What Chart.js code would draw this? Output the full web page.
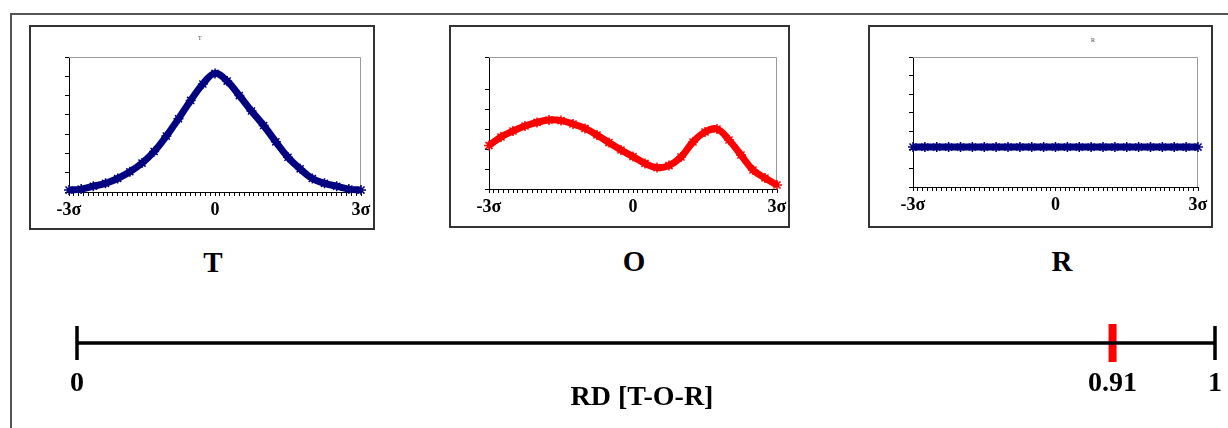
<!DOCTYPE html>
<html>
<head>
<meta charset="utf-8">
<script src="https://cdn.jsdelivr.net/npm/chart.js@4/dist/chart.umd.min.js"></script>
<style>
  body { margin: 0; background: #fff; }
  #page { position: relative; width: 1228px; height: 428px; overflow: hidden; background: #fff; font-family: "Liberation Serif", "Times New Roman", serif; }
  .frame { position: absolute; left: 10px; top: 13px; width: 1300px; height: 500px; border-left: 2px solid #555; border-top: 2px solid #555; }
  .panel { position: absolute; border: 2px solid #333; box-sizing: border-box; background: #fff; }
  .panel canvas { position: absolute; left: 0; top: 0; }
  .big { position: absolute; font-weight: bold; font-size: 29px; line-height: 29px; transform: translateX(-50%); white-space: nowrap; color: #000; }
  .tiny { position: absolute; font-size: 6px; line-height: 6px; color: #445; }
  #rd { position: absolute; left: 0; top: 300px; }
</style>
</head>
<body>
<div id="page">
  <div class="frame"></div>

  <div class="panel" style="left:29px;top:25px;width:346px;height:205px;">
    <canvas id="chartT" width="342" height="201"></canvas>
  </div>
  <div class="panel" style="left:449px;top:25px;width:341px;height:203px;">
    <canvas id="chartO" width="337" height="199"></canvas>
  </div>
  <div class="panel" style="left:868px;top:25px;width:345px;height:203px;">
    <canvas id="chartR" width="341" height="199"></canvas>
  </div>

  <div class="tiny" style="left:198px;top:35px;">T</div>
  <div class="tiny" style="left:1091px;top:37px;">R</div>

  <div class="big" style="left:213px;top:248px;">T</div>
  <div class="big" style="left:634px;top:247px;">O</div>
  <div class="big" style="left:1062px;top:247px;">R</div>

  <canvas id="rd" width="1228" height="128"></canvas>
  <div class="big" style="left:642px;top:382px;font-size:28px;line-height:28px;">RD [T-O-R]</div>
</div>

<script>
// x positions in sigma units
const sigmas = [-3, -2.75, -2.5, -2.25, -2, -1.75, -1.5, -1.25, -1, -0.75, -0.5, -0.25, 0,
                0.25, 0.5, 0.75, 1, 1.25, 1.5, 1.75, 2, 2.25, 2.5, 2.75, 3];

const valuesT = [0.1, 0.15, 0.3, 0.45, 0.7, 1.05, 1.5, 2.1, 2.9, 3.8, 4.75, 5.6, 6.15,
                 5.75, 5.0, 4.2, 3.45, 2.6, 1.8, 1.2, 0.7, 0.45, 0.3, 0.15, 0.1];
const valuesO = [2.17, 2.6, 2.9, 3.15, 3.33, 3.45, 3.42, 3.25, 3.03, 2.7, 2.32, 1.95, 1.62,
                 1.28, 1.07, 1.17, 1.6, 2.35, 2.85, 3.0, 2.45, 1.7, 0.95, 0.55, 0.2];
const valuesR = [2.15, 2.15, 2.15, 2.15, 2.15, 2.15, 2.15, 2.15, 2.15, 2.15, 2.15, 2.15, 2.15,
                 2.15, 2.15, 2.15, 2.15, 2.15, 2.15, 2.15, 2.15, 2.15, 2.15, 2.15, 2.15];

const sigmaLabels = { "-3": "-3σ", "0": "0", "3": "3σ" };

// RD scale
const rdTicks = [0, 0.91, 1];
const rdValue = 0.91;

const serif = "'Liberation Serif', 'Times New Roman', serif";

// top + right border of plot area in light grey
const plotFrame = {
  id: "plotFrame",
  beforeDatasetsDraw(chart) {
    const a = chart.chartArea, ctx = chart.ctx;
    ctx.save();
    ctx.strokeStyle = "#9a9a9a";
    ctx.lineWidth = 1;
    ctx.beginPath();
    ctx.moveTo(a.left, a.top + 0.5);
    ctx.lineTo(a.right - 0.5, a.top + 0.5);
    ctx.lineTo(a.right - 0.5, a.bottom);
    ctx.stroke();
    ctx.restore();
  }
};

function makePanel(id, values, color, yMax, padLeft, padRight, xHeight) {
  return new Chart(document.getElementById(id), {
    type: "line",
    data: {
      datasets: [{
        data: sigmas.map((s, i) => ({ x: s, y: values[i] })),
        borderColor: color,
        borderWidth: 7,
        tension: 0.4,
        pointStyle: "star",
        pointRadius: 5,
        pointBorderWidth: 1.5,
        pointBorderColor: color,
        pointBackgroundColor: color,
        clip: false
      }]
    },
    options: {
      responsive: false,
      animation: false,
      layout: { autoPadding: false, padding: { top: 30, right: padRight, left: 0, bottom: 0 } },
      plugins: { legend: { display: false }, tooltip: { enabled: false } },
      scales: {
        x: {
          type: "linear",
          min: -3,
          max: 3,
          afterFit(scale) {
            scale.height = xHeight;
            scale.paddingLeft = 0;
            scale.paddingRight = 0;
          },
          border: { color: "#000", width: 1 },
          grid: { drawOnChartArea: false, color: "#000", tickLength: 4 },
          ticks: {
            stepSize: 0.1,
            autoSkip: false,
            maxRotation: 0,
            minRotation: 0,
            padding: 4,
            color: "#000",
            font: { family: serif, size: 18, weight: "bold" },
            callback(v) {
              const k = String(Math.round(v * 10) / 10);
              return sigmaLabels[k] || "";
            }
          }
        },
        y: {
          min: 0,
          max: yMax,
          afterFit(scale) { scale.width = padLeft; },
          border: { color: "#000", width: 1 },
          grid: { drawOnChartArea: false, color: "#000", tickLength: 4 },
          ticks: { stepSize: 1, display: false }
        }
      }
    },
    plugins: [plotFrame]
  });
}

makePanel("chartT", valuesT, "#000080", 7, 38, 12, 36);
makePanel("chartO", valuesO, "#ff0000", 6.6, 38, 11, 37);
makePanel("chartR", valuesR, "#000080", 7, 43, 13, 39);

// number line for RD
new Chart(document.getElementById("rd"), {
  type: "scatter",
  data: {
    datasets: [
      {
        type: "line",
        data: [{ x: 0, y: 0 }, { x: 1, y: 0 }],
        borderColor: "#000",
        borderWidth: 3.5,
        pointStyle: "line",
        pointRotation: 90,
        pointRadius: 17,
        pointBorderWidth: 3.5,
        pointBorderColor: "#000",
        clip: false
      },
      {
        data: [{ x: rdValue, y: 0 }],
        pointStyle: "line",
        pointRotation: 90,
        pointRadius: 19,
        pointBorderWidth: 8,
        pointBorderColor: "#ff0000",
        clip: false
      }
    ]
  },
  options: {
    responsive: false,
    animation: false,
    layout: { autoPadding: false, padding: { left: 77, right: 13, top: 19, bottom: 0 } },
    plugins: { legend: { display: false }, tooltip: { enabled: false } },
    scales: {
      x: {
        type: "linear",
        min: 0,
        max: 1,
        afterBuildTicks(scale) { scale.ticks = rdTicks.map(v => ({ value: v })); },
        afterFit(scale) {
          scale.height = 61;
          scale.paddingLeft = 0;
          scale.paddingRight = 0;
        },
        border: { display: false },
        grid: { display: false, drawTicks: false },
        ticks: {
          padding: 0,
          color: "#000",
          font: { family: serif, size: 28, weight: "bold" },
          callback(v) { return String(v); }
        }
      },
      y: { display: false, min: -1, max: 1 }
    }
  }
});
</script>
</body>
</html>
